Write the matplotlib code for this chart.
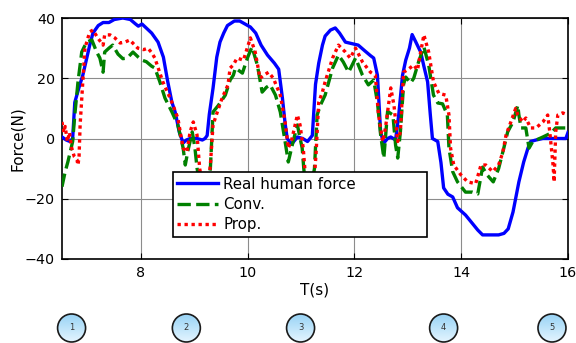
import numpy as np
import matplotlib
matplotlib.use("Agg")
import matplotlib.pyplot as plt
from matplotlib.patches import Circle

# ---- data ----
t_real = [6.52, 6.60, 6.67, 6.72, 6.76, 6.84, 6.91, 7.04, 7.10, 7.20, 7.29, 7.40, 7.50, 7.66,
          7.80, 7.90, 7.95, 8.02, 8.08, 8.20, 8.32, 8.42, 8.50, 8.58, 8.64, 8.72, 8.79, 8.85,
          8.92, 9.05, 9.15, 9.20, 9.24, 9.28, 9.35, 9.42, 9.48, 9.55, 9.62, 9.75, 9.85, 9.95,
          10.05, 10.15, 10.25, 10.37, 10.50, 10.58, 10.65, 10.70, 10.74, 10.80, 10.84, 10.93,
          11.03, 11.12, 11.21, 11.27, 11.33, 11.40, 11.45, 11.55, 11.64, 11.72, 11.83, 11.95,
          12.07, 12.20, 12.30, 12.36, 12.43, 12.49, 12.55, 12.62, 12.68, 12.77, 12.83, 12.90,
          12.96, 13.03, 13.08, 13.15, 13.24, 13.30, 13.37, 13.42, 13.46, 13.56, 13.62, 13.67,
          13.75, 13.84, 13.93, 14.08, 14.20, 14.31, 14.40, 14.50, 14.70, 14.80, 14.88, 14.97,
          15.08, 15.17, 15.25, 15.30, 15.40, 15.53, 15.96, 16.00]
f_real = [0.5, -0.5, -1, 0, 12, 17, 21, 31, 35, 37.5, 38.5, 38.5, 39.5, 40,
          39.5, 38, 37.3, 38, 37, 35, 32, 27, 19, 12, 8.8, 2, -1.5, -0.5,
          0, 0, -0.5, 0, 1, 8, 16.7, 27, 32, 35, 37.5, 39, 39, 38,
          37, 35, 31, 27.7, 25, 23, 13.4, 5, 0, -1.5, -1.5, 0.5,
          0, -1, 1, 18, 25, 31, 34, 36, 36.7, 35, 32, 31.5,
          31, 29, 27.5, 26.7, 21, 2, -1.5, 0, 0.5, -0.5, 8, 21,
          26, 30, 34.5, 32, 28.7, 24, 18.8, 8, 0, -1, -8, -16.4,
          -18.5, -19.4, -23, -25.4, -28, -30.4, -32, -32, -32, -31.5, -30, -24.4,
          -14.4, -7.8, -3.2, -1, -0.5, 0, 0, 2]

t_conv = [6.52, 6.58, 6.63, 6.72, 6.76, 6.82, 6.89, 6.98, 7.08, 7.17, 7.23, 7.29, 7.32, 7.40,
          7.47, 7.57, 7.66, 7.74, 7.85, 7.95, 8.02, 8.10, 8.20, 8.26, 8.35, 8.45, 8.58, 8.69,
          8.75, 8.79, 8.83, 8.88, 8.92, 8.96, 9.01, 9.05, 9.10, 9.25, 9.30, 9.35, 9.45, 9.58,
          9.67, 9.73, 9.77, 9.90, 10.00, 10.08, 10.18, 10.27, 10.35, 10.42, 10.52, 10.61, 10.70,
          10.76, 10.85, 10.93, 11.02, 11.05, 11.08, 11.20, 11.25, 11.30, 11.36, 11.45, 11.59,
          11.70, 11.79, 11.89, 12.02, 12.15, 12.26, 12.36, 12.43, 12.49, 12.55, 12.62, 12.72,
          12.77, 12.81, 12.86, 12.92, 12.96, 13.05, 13.11, 13.20, 13.30, 13.39, 13.48, 13.56,
          13.65, 13.74, 13.77, 13.84, 13.93, 14.08, 14.21, 14.31, 14.40, 14.48, 14.60, 14.70,
          14.80, 14.87, 14.97, 15.06, 15.08, 15.12, 15.21, 15.27, 15.34, 15.53, 15.68, 15.77,
          15.96, 16.00]
f_conv = [-16, -11, -7.8, -1, 7.8, 18.8, 28.7, 32, 32.7, 28.7, 26.7, 22, 28.7, 30,
          31, 28, 26.5, 26.7, 28.7, 27, 26, 25.5, 24, 23.4, 19, 13.4, 8.8, 4.5,
          0, -3.2, -8.8, -4, -1, 2.2, -3, -9.8, -15, -15, -10, 8.8, 11, 14.4,
          19.4, 21, 23.4, 21.7, 27, 30.4, 24.4, 15.4, 17, 17.8, 14.4, 8.8, -1,
          -7.8, -1, 4.5, -3.2, -10, -15, -15, -10, 7.8, 11, 14.4, 23.4,
          27.7, 25.4, 22, 26.7, 21, 17.8, 19.4, 12, 1.2, -6.5, 9, 7.8,
          -2.2, -6.5, 2.2, 18, 20.4, 18.4, 20, 25.4, 30.4, 24.4, 14.4, 11.8,
          11.5, 7.8, -3.2, -11, -14.4, -17.8, -17.8, -18.4, -9.5, -12, -14.4, -10,
          -3, 2.2, 5.5, 11, 7.8, 3.5, 3.5, -3.2, -1, 0.5, 1.8, 3.5,
          3.5, 3]

t_prop = [6.52, 6.55, 6.58, 6.62, 6.66, 6.70, 6.75, 6.80, 6.82, 6.84, 6.86, 6.91, 6.95, 7.04,
          7.10, 7.19, 7.29, 7.32, 7.42, 7.51, 7.61, 7.70, 7.79, 7.94, 8.05, 8.13, 8.20, 8.26,
          8.41, 8.58, 8.69, 8.79, 8.86, 8.92, 8.98, 9.05, 9.10, 9.15, 9.26, 9.30, 9.35, 9.43,
          9.52, 9.63, 9.67, 9.73, 9.80, 9.92, 10.05, 10.14, 10.23, 10.30, 10.39, 10.48, 10.61,
          10.70, 10.76, 10.83, 10.93, 10.98, 11.04, 11.07, 11.10, 11.24, 11.28, 11.33, 11.40,
          11.45, 11.59, 11.70, 11.83, 11.92, 12.02, 12.15, 12.30, 12.39, 12.45, 12.53, 12.58,
          12.68, 12.74, 12.81, 12.86, 12.92, 13.01, 13.11, 13.18, 13.24, 13.30, 13.39, 13.48,
          13.58, 13.71, 13.77, 13.80, 13.86, 13.99, 14.12, 14.27, 14.37, 14.46, 14.59, 14.70,
          14.78, 14.84, 14.93, 15.02, 15.06, 15.15, 15.21, 15.30, 15.40, 15.53, 15.62, 15.66,
          15.72, 15.74, 15.77, 15.81, 15.90, 16.00]
f_prop = [5.5, 2, 4, -1, 2, -3, -6, -7, -8.8, -6, 4.5, 18.8, 30, 35.4,
          36, 33.4, 31, 34.4, 34.4, 33.4, 31.7, 32, 32.7, 30, 29.5, 30, 28.5, 26.7,
          18.8, 12, 6.8, -3.2, -4.5, 2.2, 5.5, 1.2, -10, -15, -15, -8.8, 4.5, 8.8,
          13.4, 17.8, 23.4, 24.4, 26.7, 26, 33.4, 28.7, 20, 21, 22, 20, 14.4,
          5.5, -3.2, 0, 7.8, 4.5, -3.2, -10, -15, -15, -5, 12, 15.5,
          18.8, 26.7, 31, 28.7, 26.7, 30, 25.4, 22, 21, 7.8, -1, 3.5,
          16.8, 11, -1, 2.2, 22, 23, 24.4, 22.7, 28.7, 34.4, 28.7, 18.8,
          15, 14.4, 7.8, -3.2, -8.8, -12, -14.4, -15, -8.8, -8.8, -11, -8.8,
          -4.5, 1.2, 5.5, 10, 7.8, 5.5, 6.8, 3.5, 3.5, 5.5, 7.8, 2,
          -8.8, -14.4, 2.2, 7.8, 8.5, 7.8]

x_ticks = [8, 10, 12, 14, 16]
y_ticks = [-40, -20, 0, 20, 40]
phase_labels = ["1", "2", "3", "4", "5"]
phase_times = [6.70, 8.85, 10.99, 13.67, 15.70]

plt.rcParams["font.family"] = ["DejaVu Sans"]

fig = plt.figure(figsize=(5.76, 3.43), dpi=100)
ax = fig.add_axes([0.1076, 0.2449, 0.8785, 0.7026])

ax.plot(t_real, f_real, color="#0000ff", lw=2.4, label="Real human force", zorder=3)
ax.plot(t_conv, f_conv, color="#008000", lw=2.4, ls=(0, (4, 1.6)), label="Conv.", zorder=3)
ax.plot(t_prop, f_prop, color="#ff0000", lw=2.4, ls=(0, (1, 1.1)), label="Prop.", zorder=3)

ax.set_xlim(6.52, 16)
ax.set_ylim(-40, 40)
ax.set_xticks(x_ticks)
ax.set_yticks(y_ticks)
ax.grid(True, color="0.55", lw=0.8)
ax.tick_params(direction="in", top=True, right=True, length=4, labelsize=10.3, pad=5)
for s in ax.spines.values():
    s.set_linewidth(1.2)
ax.set_xlabel("T(s)", fontsize=11, labelpad=2)
ax.set_ylabel("Force(N)", fontsize=11, labelpad=0)

leg = ax.legend(loc="upper left", bbox_to_anchor=(0.219, 0.361, 0.502, 0.0), mode="expand",
                fancybox=False, framealpha=1, edgecolor="black", fontsize=10.8,
                handlelength=2.7, handletextpad=0.35, labelspacing=0.35,
                borderpad=0.3, borderaxespad=0)
leg.get_frame().set_linewidth(1.2)
leg.set_zorder(5)

# phase markers below the axis
fig.canvas.draw()
over = fig.add_axes([0, 0, 1, 1])
over.set_xlim(0, 576)
over.set_ylim(0, 343)
over.axis("off")
grad = np.linspace(0, 1, 64).reshape(-1, 1)
cmap = matplotlib.colors.LinearSegmentedColormap.from_list("b", ["#e4f5ff", "#98d3f5"])
cy, r = 343 - 328, 14
for lab, tt in zip(phase_labels, phase_times):
    cx = ax.transData.transform((tt, 0))[0]
    im = over.imshow(grad, extent=(cx - r, cx + r, cy - r, cy + r), origin="lower",
                     cmap=cmap, aspect="auto", interpolation="bilinear")
    circ = Circle((cx, cy), r, transform=over.transData)
    im.set_clip_path(circ)
    over.add_patch(Circle((cx, cy), r, fill=False, edgecolor="#1a1a1a", lw=1.2))
    over.text(cx, cy, lab, ha="center", va="center", fontsize=6, color="#333333")
over.set_xlim(0, 576)
over.set_ylim(0, 343)

fig.savefig("out.png", dpi=100)
